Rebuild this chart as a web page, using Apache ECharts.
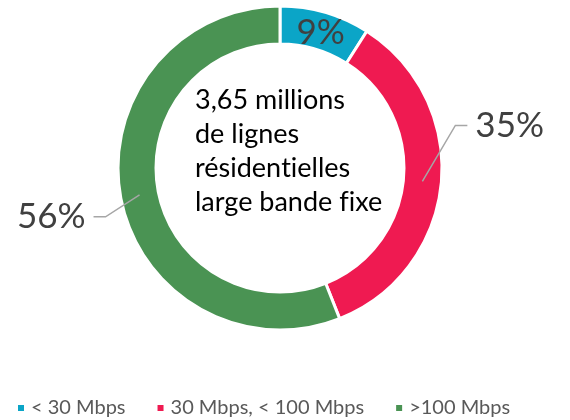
<!DOCTYPE html>
<html>
<head>
<meta charset="utf-8">
<script src="https://cdn.jsdelivr.net/npm/echarts@6/dist/echarts.min.js"></script>
<style>
  html, body { margin: 0; padding: 0; background: #fff; }
  #chart { width: 570px; height: 420px; }
</style>
</head>
<body>
<div id="chart"></div>
<script>
// Répartition des lignes résidentielles large bande fixe par débit
const categories = ['< 30 Mbps', '30 Mbps, < 100 Mbps', '>100 Mbps'];
const shares = [9, 35, 56];
const colors = ['#0ba5c7', '#ef1a51', '#4a9353'];
// {s|..} pieces are drawn as separate runs so "ti" / "fi" stay unligatured
const centerLines = ['3,65 millions', 'de lignes', 'résiden{s|t}ielles', 'large bande f{s|i}xe'];

// ring geometry (px)
const CX = 280, CY = 168, R_IN = 124, R_OUT = 162;
const total = shares.reduce((a, b) => a + b, 0);

// point in the middle of the ring at the middle angle of slice i
function ringMidPoint(i) {
  let before = 0;
  for (let k = 0; k < i; k++) before += shares[k];
  const a = (before + shares[i] / 2) / total * Math.PI * 2;
  const r = (R_IN + R_OUT) / 2;
  return [CX + r * Math.sin(a), CY - r * Math.cos(a)];
}

// leader line shape per slice: elbow offset, horizontal tail, text gap
const leaders = [
  null,
  { dx: 33, dy: -56, tail: 12, gap: 8 },
  { dx: -34, dy: 22, tail: -12, gap: -8 }
];

function leaderPoints(i) {
  const l = leaders[i];
  const p0 = ringMidPoint(i);
  const p1 = [p0[0] + l.dx, p0[1] + l.dy];
  const p2 = [p1[0] + l.tail, p1[1]];
  return [p0, p1, p2];
}

const leaderGraphics = [];
leaders.forEach((l, i) => {
  if (!l) return;
  leaderGraphics.push({
    type: 'polyline',
    z: 100,
    silent: true,
    shape: { points: leaderPoints(i) },
    style: { stroke: '#a6a6a6', lineWidth: 1.5, fill: null }
  });
});

const chart = echarts.init(document.getElementById('chart'), null, { renderer: 'canvas' });

chart.setOption({
  animation: false,
  color: colors,
  legend: {
    data: categories,
    bottom: -3,
    left: 11,
    itemWidth: 8,
    itemHeight: 8,
    itemGap: 30,
    icon: 'rect',
    textStyle: { fontFamily: 'Lato', fontSize: 20, color: '#595959', padding: [0, 0, 0, 1] }
  },
  graphic: [{
    type: 'text',
    left: 195,
    top: 83,
    style: {
      text: centerLines.join('\n'),
      font: '27px Lato',
      lineHeight: 34,
      fill: '#000000',
      rich: {
        s: { font: '27px Lato', lineHeight: 34, fill: '#000000' }
      }
    }
  }].concat(leaderGraphics),
  series: [{
    type: 'pie',
    center: [CX, CY],
    radius: [R_IN, R_OUT],
    startAngle: 90,
    clockwise: true,
    avoidLabelOverlap: false,
    itemStyle: { borderColor: '#ffffff', borderWidth: 3 },
    label: {
      show: true,
      position: 'outside',
      formatter: '{c}%',
      fontFamily: 'Lato',
      fontSize: 35,
      color: '#404040'
    },
    labelLine: { show: false },
    labelLayout: function (params) {
      const i = params.dataIndex;
      const l = leaders[i];
      if (!l) return { dy: 5 };
      const end = leaderPoints(i)[2];
      return {
        x: end[0] + l.gap,
        y: end[1],
        align: l.tail > 0 ? 'left' : 'right',
        verticalAlign: 'middle'
      };
    },
    emphasis: { disabled: true },
    data: categories.map((name, i) => {
      const item = { name: name, value: shares[i] };
      if (i === 0) item.label = { position: 'inside' };
      return item;
    })
  }]
});
</script>
</body>
</html>
